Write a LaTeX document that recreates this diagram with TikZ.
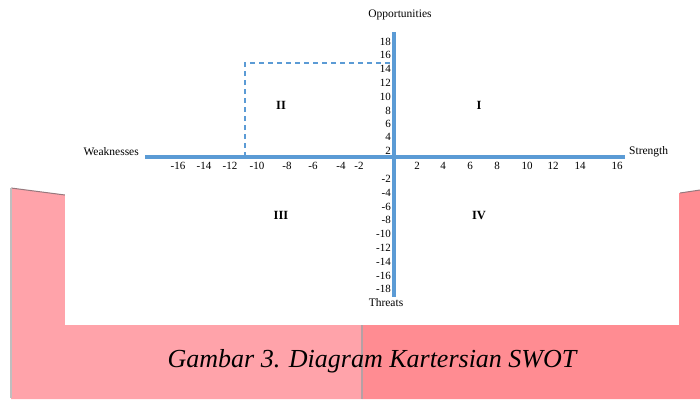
\documentclass[tikz,border=0pt]{standalone}
\usepackage{fontspec}
\setmainfont{Liberation Serif}
\definecolor{axisblue}{RGB}{91,155,213}
\definecolor{pinkL}{RGB}{255,163,170}
\definecolor{pinkR}{RGB}{255,140,146}
\definecolor{edgegray}{RGB}{150,120,125}
\begin{document}
\begin{tikzpicture}[x=1pt,y=-1pt,
  axis/.style={draw=axisblue,line width=3.6pt},
  guide/.style={draw=axisblue,line width=1.1pt,dash pattern=on 5pt off 4pt},
  tick/.style={inner sep=0pt,font=\fontsize{11}{11}\selectfont},
  axlabel/.style={inner sep=0pt,font=\fontsize{11.5}{11.5}\selectfont},
  quad/.style={inner sep=0pt,font=\fontsize{12.5}{12.5}\selectfont\bfseries},
  caption/.style={inner sep=0pt,font=\fontsize{26}{26}\selectfont\itshape}]
\useasboundingbox (0,0) rectangle (700,399);
\fill[white] (0,0) rectangle (700,399);
% pink backdrop
\fill[pinkL] (11,188) -- (65,195) -- (362,195) -- (362,399) -- (11,399) -- cycle;
\fill[pinkR] (362,195) -- (680,193) -- (700,190) -- (700,399) -- (362,399) -- cycle;
\draw[edgegray,line width=1pt] (11,188) -- (65,195);
\draw[edgegray,line width=1pt] (680,193) -- (700,190);
\draw[black!25,line width=1.2pt] (11,188) -- (11,398);
\draw[edgegray!70,line width=1.2pt] (362,325) -- (362,399);
% white diagram area
\fill[white] (65,0) rectangle (679,325);
% axes
\coordinate (xl) at (145,157);
\coordinate (xr) at (625,157);
\coordinate (yt) at (394,32);
\coordinate (yb) at (394,297);
\coordinate (g1) at (245,157);
\coordinate (g2) at (245,63);
\coordinate (g3) at (394,63);
\draw[guide] (g1) -- (g2) -- (g3);
\draw[axis] (xl) -- (xr);
\draw[axis] (yt) -- (yb);
% x tick labels
\foreach \v/\px in {-16/178,-14/204,-12/230,-10/257,-8/287,-6/313,-4/341,-2/359,
                    2/417,4/443,6/470,8/497,10/527,12/553,14/580,16/617}
  \node[tick] (xt\v) at (\px,166) {\v};
% y tick labels
\foreach \v/\py in {18/42,16/55,14/69,12/83,10/97,8/111,6/124,4/137,2/151,
                    -2/179,-4/193,-6/207,-8/220,-10/234,-12/248,-14/262,-16/276,-18/289}
  \node[tick,anchor=east] (yt\v) at (391,\py) {\v};
% axis names
\node[axlabel] (opp) at (400,15) {Opportunities};
\node[axlabel] (thr) at (386,303) {Threats};
\node[axlabel,anchor=east] (weak) at (139,152) {Weaknesses};
\node[axlabel,anchor=west] (str) at (629,152) {Strength};
% quadrants
\node[quad] (q2) at (281,105) {II};
\node[quad] (q1) at (479,105) {I};
\node[quad] (q3) at (281,215) {III};
\node[quad] (q4) at (479,215) {IV};
% caption
\node[caption] (cap) at (372,361) {Gambar 3. Diagram Kartersian SWOT};
\end{tikzpicture}
\end{document}
